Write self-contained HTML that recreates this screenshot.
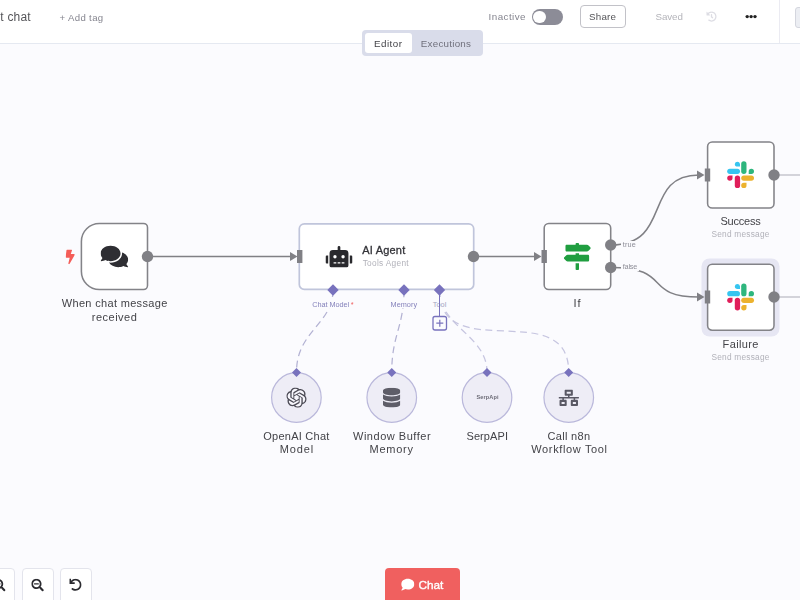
<!DOCTYPE html>
<html>
<head>
<meta charset="utf-8">
<title>n8n workflow</title>
<style>
*{box-sizing:border-box;margin:0;padding:0}
html,body{width:800px;height:600px;overflow:hidden}
body{background:#fbfbfe;font-family:"Liberation Sans",sans-serif;position:relative;color:#555}
.abs{position:absolute}
#header{position:absolute;left:0;top:0;width:800px;height:44px;background:#fff;border-bottom:1px solid #e5e9f1}
.t{position:absolute;white-space:nowrap;line-height:1;will-change:opacity;opacity:.999}
.c{transform:translateX(-50%);text-align:center}
#tabs{position:absolute;left:362px;top:30px;width:121px;height:26px;background:#d9dcea;border-radius:4px}
#tabs .ed{position:absolute;left:3px;top:3px;width:47px;height:20px;background:#fff;border-radius:3px}
.node{position:absolute;background:#fff;border:2px solid #848489}
.lbl{font-size:11.5px;color:#4a4a4a}
.sub{font-size:9.5px;color:#aeaeb6}
.circ{position:absolute;width:51px;height:51px;border-radius:50%;background:#eeedf6;border:1.15px solid #bab8db}
.btn{position:absolute;top:568px;width:32px;height:40px;background:#fff;border:1px solid #e3e4ec;border-radius:4px}
</style>
</head>
<body>
<!-- HEADER -->
<div id="header">
  <div class="abs" style="left:531.5px;top:9px;width:31px;height:15.5px;border-radius:8px;background:#8c8c97"></div>
  <div class="abs" style="left:533px;top:10.5px;width:12.5px;height:12.5px;border-radius:50%;background:#fff"></div>
  <div class="abs" style="left:579.5px;top:5px;width:46px;height:23px;border:1px solid #c2c2c8;border-radius:4px;background:#fff"></div>
  <div class="abs" style="left:778.6px;top:0;width:1.5px;height:43px;background:#ebebf2"></div>
  <div class="abs" style="left:795.3px;top:6.5px;width:10px;height:21.5px;border:1px solid #d4d6de;border-radius:3px;background:#eceef3"></div>
</div>
<div id="tabs"><div class="ed"></div>
</div>

<!-- SVG LAYER: connections -->
<svg class="abs" style="left:0;top:0" width="800" height="600" viewBox="0 0 800 600" fill="none">
  <!-- selection halo -->
  <rect x="701.5" y="258.5" width="78" height="78" rx="8" fill="#e6e6f3"/>
  <!-- main connections -->
  <g stroke="#808085" stroke-width="1.5">
    <path d="M148 256.5H292"/>
    <path d="M474 256.5H536"/>
    <path d="M611 245C673 245 642 175 699 175"/>
    <path d="M611 267.5C673 267.5 642 297 699 297"/>
  </g>
  <g stroke="#c6c6ce" stroke-width="1.5">
    <path d="M774 175H800"/>
    <path d="M774 297H800"/>
  </g>
  <!-- arrows -->
  <g fill="#808085">
    <path d="M290 252l7.5 4.5l-7.5 4.5z"/>
    <path d="M534 252l7.5 4.5l-7.5 4.5z"/>
    <path d="M697 170.5l7.5 4.5l-7.5 4.5z"/>
    <path d="M697 292.5l7.5 4.5l-7.5 4.5z"/>
  </g>
  <!-- dashed AI connections -->
  <g stroke="#b3b2d3" stroke-width="1.25" stroke-dasharray="7 4.5">
    <path d="M333 290C333 324 296.5 331 296.5 372"/>
    <path d="M404 290C404 327 391.75 335 391.75 372"/>
  </g>
  <g stroke="#c6c5e0" stroke-width="1.25" stroke-dasharray="7 4.5">
    <path d="M439.5 290C439.5 327 487 335 487 372"/>
    <path d="M439.5 290C439.5 367 568.7 295 568.7 372"/>
  </g>
  <!-- node shapes -->
  <g fill="#fff" stroke="#838388" stroke-width="1.55">
    <path d="M99.4 223.5H143.5a4 4 0 0 1 4 4V285.5a4 4 0 0 1-4 4H99.4a18 18 0 0 1-18-18V241.5a18 18 0 0 1 18-18z"/>
    <rect x="544.2" y="223.5" width="66.5" height="66" rx="4.6"/>
    <rect x="707.6" y="142" width="66.4" height="66" rx="4.6"/>
    <rect x="707.6" y="264.2" width="66.4" height="66" rx="4.6"/>
  </g>
  <rect x="299.3" y="223.8" width="174.4" height="65.6" rx="5" fill="#fff" stroke="#c0c5db" stroke-width="1.7"/>
  <g fill="#eeedf6" stroke="#bab8db" stroke-width="1.2">
    <circle cx="296.4" cy="397.5" r="24.8"/>
    <circle cx="391.75" cy="397.5" r="24.8"/>
    <circle cx="487" cy="397.5" r="24.8"/>
    <circle cx="568.75" cy="397.5" r="24.8"/>
  </g>
</svg>

<!-- NODES -->

<!-- SVG LAYER: endpoints + icons -->
<svg class="abs" style="left:0;top:0" width="800" height="600" viewBox="0 0 800 600" fill="none">
  <g fill="#808085">
    <circle cx="147.5" cy="256.5" r="5.7"/>
    <circle cx="473.5" cy="256.5" r="5.7"/>
    <circle cx="610.7" cy="245" r="5.7"/>
    <circle cx="610.7" cy="267.5" r="5.7"/>
    <circle cx="774" cy="175" r="5.7"/>
    <circle cx="774" cy="297" r="5.7"/>
    <rect x="297" y="250" width="5.4" height="13"/>
    <rect x="541.5" y="250" width="5.4" height="13"/>
    <rect x="704.8" y="168.5" width="5.4" height="13"/>
    <rect x="704.8" y="290.5" width="5.4" height="13"/>
  </g>
  <!-- diamonds -->
  <g fill="#7872bd">
    <path d="M333 284.3l5.7 5.7l-5.7 5.7l-5.7-5.7z"/>
    <path d="M404 284.3l5.7 5.7l-5.7 5.7l-5.7-5.7z"/>
    <path d="M439.5 284.3l5.7 5.7l-5.7 5.7l-5.7-5.7z"/>
    <path d="M296.5 368l4.5 4.5l-4.5 4.5l-4.5-4.5z"/>
    <path d="M391.75 368l4.5 4.5l-4.5 4.5l-4.5-4.5z"/>
    <path d="M487 368l4.5 4.5l-4.5 4.5l-4.5-4.5z"/>
    <path d="M568.7 368l4.5 4.5l-4.5 4.5l-4.5-4.5z"/>
  </g>
  <!-- plus box -->
  <rect x="433" y="316.5" width="13.5" height="13.5" rx="2" fill="#fbfbfe" stroke="#7872bd" stroke-width="1.3"/>
  <path d="M436.3 323.2h7M439.8 319.7v7" stroke="#7872bd" stroke-width="1.2"/>
</svg>

<!-- BOTTOM -->
<div class="btn" style="left:-17px"></div>
<div class="btn" style="left:21.5px"></div>
<div class="btn" style="left:59.7px"></div>
<div class="abs" style="left:385px;top:568.3px;width:75.3px;height:40px;background:#f0605f;border-radius:4px"></div>
<svg class="abs" style="left:0;top:0" width="800" height="600" viewBox="0 0 800 600" fill="none">
  <!-- ICONS -->
  <!-- bolt -->
  <svg x="65.6" y="249.4" width="9.2" height="14.8" viewBox="0 0 320 512"><path fill="#f45d58" d="M296 160H180.600l42.600-129.800C227.200 15 215.700 0 200 0H56C44 0 33.800 8.900 32.200 20.800l-32 240C-1.700 275.200 9.500 288 24 288h118.700L96.600 482.500c-3.600 15.200 8 29.500 23.300 29.500 8.400 0 16.400-4.400 20.800-12l176-304c9.300-15.900-2.200-36-20.700-36z"/></svg>
  <!-- comments -->
  <svg x="100.6" y="244.3" width="27.6" height="24.5" viewBox="0 0 576 512"><path fill="#2e2e33" d="M416 192c0-88.400-93.100-160-208-160S0 103.600 0 192c0 34.300 14.100 65.900 38 92-13.400 30.200-35.500 54.200-35.800 54.500-2.200 2.300-2.800 5.700-1.500 8.700S4.800 352 8 352c36.600 0 66.900-12.300 88.700-25 32.200 15.700 70.300 25 111.300 25 114.900 0 208-71.600 208-160zm122 220c23.900-26 38-57.700 38-92 0-66.900-53.500-124.200-129.300-148.100.9 6.600 1.300 13.300 1.300 20.100 0 105.900-107.700 192-240 192-10.800 0-21.300-.8-31.700-1.900C207.800 439.600 281.800 480 368 480c41 0 79.100-9.200 111.300-25 21.800 12.700 52.100 25 88.700 25 3.200 0 6.100-1.900 7.300-4.800 1.300-2.900.7-6.300-1.500-8.700-.3-.3-22.400-24.200-35.800-54.500z"/></svg>
  <!-- robot -->
  <svg x="325.5" y="246" width="27" height="21.6" viewBox="0 0 640 512"><path fill="#29292d" d="M32,224H64V416H32A31.962,31.962,0,0,1,0,384V256A31.962,31.962,0,0,1,32,224Zm512-48V448a64.063,64.063,0,0,1-64,64H160a64.063,64.063,0,0,1-64-64V176a79.974,79.974,0,0,1,80-80H288V32a32,32,0,0,1,64,0V96H464A79.974,79.974,0,0,1,544,176ZM264,256a40,40,0,1,0-40,40A39.997,39.997,0,0,0,264,256Zm-8,128H192v32h64Zm96,0H288v32h64ZM456,256a40,40,0,1,0-40,40A39.997,39.997,0,0,0,456,256Zm-8,128H384v32h64ZM640,256V384a31.962,31.962,0,0,1-32,32H576V224h32A31.962,31.962,0,0,1,640,256Z"/></svg>
  <!-- map signs -->
  <svg x="563.8" y="243" width="27" height="27" viewBox="0 0 512 512"><path fill="#209e40" d="M507.310 84.690L464 41.370c-6-6-14.140-9.370-22.630-9.370H288V16c0-8.840-7.160-16-16-16h-32c-8.840 0-16 7.160-16 16v16H56c-13.250 0-24 10.750-24 24v80c0 13.250 10.750 24 24 24h385.370c8.490 0 16.620-3.370 22.630-9.370l43.310-43.310c6.250-6.260 6.250-16.380 0-22.630zM224 496c0 8.840 7.160 16 16 16h32c8.840 0 16-7.160 16-16V384h-64v112zm232-272H288v-32h-64v32H70.630c-8.490 0-16.620 3.370-22.630 9.370L4.690 276.690c-6.250 6.250-6.250 16.380 0 22.630L48 342.630c6 6 14.140 9.370 22.630 9.370H456c13.250 0 24-10.750 24-24v-80c0-13.250-10.750-24-24-24z"/></svg>
  <!-- slack x2 -->
  <g transform="translate(727.2 161.3)">
    <rect x="0" y="7.4" width="12.8" height="5.3" rx="2.65" fill="#36c5f0"/>
    <path d="M7.6 2.65a2.65 2.65 0 0 1 5.2 0v2.65h-2.55a2.65 2.65 0 0 1-2.65-2.65z" fill="#36c5f0"/>
    <rect x="14" y="0" width="5.3" height="12.7" rx="2.65" fill="#2eb67d"/>
    <path d="M24.15 12.7h-2.65v-2.65a2.65 2.65 0 1 1 2.65 2.65z" fill="#2eb67d"/>
    <rect x="14" y="14.1" width="12.8" height="5.3" rx="2.65" fill="#ecb22e"/>
    <path d="M19.3 24.15a2.65 2.65 0 1 1-2.65-2.65h2.65z" fill="#ecb22e"/>
    <rect x="7.6" y="14.1" width="5.3" height="12.7" rx="2.65" fill="#e01e5a"/>
    <path d="M2.65 14.1h2.65v2.65a2.65 2.65 0 1 1-2.65-2.65z" fill="#e01e5a"/>
  </g>
  <g transform="translate(727.2 283.6)">
    <rect x="0" y="7.4" width="12.8" height="5.3" rx="2.65" fill="#36c5f0"/>
    <path d="M7.6 2.65a2.65 2.65 0 0 1 5.2 0v2.65h-2.55a2.65 2.65 0 0 1-2.65-2.65z" fill="#36c5f0"/>
    <rect x="14" y="0" width="5.3" height="12.7" rx="2.65" fill="#2eb67d"/>
    <path d="M24.15 12.7h-2.65v-2.65a2.65 2.65 0 1 1 2.65 2.65z" fill="#2eb67d"/>
    <rect x="14" y="14.1" width="12.8" height="5.3" rx="2.65" fill="#ecb22e"/>
    <path d="M19.3 24.15a2.65 2.65 0 1 1-2.65-2.65h2.65z" fill="#ecb22e"/>
    <rect x="7.6" y="14.1" width="5.3" height="12.7" rx="2.65" fill="#e01e5a"/>
    <path d="M2.65 14.1h2.65v2.65a2.65 2.65 0 1 1-2.65-2.65z" fill="#e01e5a"/>
  </g>

  <!-- openai -->
  <svg x="286.3" y="387.4" width="20.4" height="20.4" viewBox="0 0 24 24"><circle cx="12" cy="12" r="10.5" fill="#f7f6fc"/><path fill="#4c4b55" d="M22.2819 9.8211a5.9847 5.9847 0 0 0-.5157-4.9108 6.0462 6.0462 0 0 0-6.5098-2.9A6.0651 6.0651 0 0 0 4.9807 4.1818a5.9847 5.9847 0 0 0-3.9977 2.9 6.0462 6.0462 0 0 0 .7427 7.0966 5.98 5.98 0 0 0 .511 4.9107 6.051 6.051 0 0 0 6.5146 2.9001A5.9847 5.9847 0 0 0 13.2599 24a6.0557 6.0557 0 0 0 5.7718-4.2058 5.9894 5.9894 0 0 0 3.9977-2.9001 6.0557 6.0557 0 0 0-.7475-7.0729zm-9.022 12.6081a4.4755 4.4755 0 0 1-2.8764-1.0408l.1419-.0804 4.7783-2.7582a.7948.7948 0 0 0 .3927-.6813v-6.7369l2.02 1.1686a.071.071 0 0 1 .038.052v5.5826a4.504 4.504 0 0 1-4.4945 4.4944zm-9.6607-4.1254a4.4708 4.4708 0 0 1-.5346-3.0137l.142.0852 4.783 2.7582a.7712.7712 0 0 0 .7806 0l5.8428-3.3685v2.3324a.0804.0804 0 0 1-.0332.0615L9.74 19.9502a4.4992 4.4992 0 0 1-6.1408-1.6464zM2.3408 7.8956a4.485 4.485 0 0 1 2.3655-1.9728V11.6a.7664.7664 0 0 0 .3879.6765l5.8144 3.3543-2.0201 1.1685a.0757.0757 0 0 1-.071 0l-4.8303-2.7865A4.504 4.504 0 0 1 2.3408 7.872zm16.5963 3.8558L13.1038 8.364 15.1192 7.2a.0757.0757 0 0 1 .071 0l4.8303 2.7913a4.4944 4.4944 0 0 1-.6765 8.1042v-5.6772a.79.79 0 0 0-.407-.667zm2.0107-3.0231l-.142-.0852-4.7735-2.7818a.7759.7759 0 0 0-.7854 0L9.409 9.2297V6.8974a.0662.0662 0 0 1 .0284-.0615l4.8303-2.7866a4.4992 4.4992 0 0 1 6.6802 4.66zM8.3065 12.863l-2.02-1.1638a.0804.0804 0 0 1-.038-.0567V6.0742a4.4992 4.4992 0 0 1 7.3757-3.4537l-.142.0805L8.704 5.459a.7948.7948 0 0 0-.3927.6813zm1.0976-2.3654l2.602-1.4998 2.6069 1.4998v2.9994l-2.5974 1.4997-2.6067-1.4997Z"/></svg>
  <!-- database -->
  <svg x="383" y="387.8" width="17.3" height="19.8" viewBox="0 0 448 512"><path fill="#5e5d68" d="M448 73.143v45.714C448 159.143 347.667 192 224 192S0 159.143 0 118.857V73.143C0 32.857 100.333 0 224 0s224 32.857 224 73.143zM448 176v102.857C448 319.143 347.667 352 224 352S0 319.143 0 278.857V176c48.125 33.143 136.208 48.572 224 48.572S399.874 209.143 448 176zm0 160v102.857C448 479.143 347.667 512 224 512S0 479.143 0 438.857V336c48.125 33.143 136.208 48.572 224 48.572S399.874 369.143 448 336z"/></svg>
  <!-- network wired -->
  <svg x="558.5" y="389.6" width="20.5" height="16.4" viewBox="0 0 640 512"><path fill="#5a5965" d="M640 264v-16c0-8.840-7.160-16-16-16H344v-40h72c17.670 0 32-14.330 32-32V32c0-17.670-14.330-32-32-32H224c-17.670 0-32 14.330-32 32v128c0 17.670 14.330 32 32 32h72v40H16c-8.840 0-16 7.160-16 16v16c0 8.840 7.160 16 16 16h104v40H64c-17.670 0-32 14.330-32 32v128c0 17.670 14.330 32 32 32h160c17.670 0 32-14.330 32-32V352c0-17.670-14.330-32-32-32h-56v-40h304v40h-56c-17.670 0-32 14.330-32 32v128c0 17.670 14.330 32 32 32h160c17.670 0 32-14.330 32-32V352c0-17.670-14.330-32-32-32h-56v-40h104c8.840 0 16-7.160 16-16zM256 128V64h128v64H256zm-64 320H96v-64h96v64zm352 0h-96v-64h96v64z"/></svg>
  <!-- search minus -->
  <svg x="31.3" y="578.8" width="12.6" height="12.6" viewBox="0 0 512 512"><path fill="#2b2b30" d="M304 192v32c0 6.600-5.400 12-12 12H124c-6.600 0-12-5.400-12-12v-32c0-6.600 5.400-12 12-12h168c6.600 0 12 5.400 12 12zm201 284.700L476.700 505c-9.400 9.400-24.600 9.400-33.900 0L343 405.300c-4.500-4.500-7-10.600-7-17V372c-35.300 27.600-79.700 44-128 44C93.100 416 0 322.900 0 208S93.100 0 208 0s208 93.100 208 208c0 48.300-16.400 92.700-44 128h16.300c6.400 0 12.500 2.500 17 7l99.700 99.700c9.300 9.400 9.300 24.600 0 34zM344 208c0-75.200-60.800-136-136-136S72 132.800 72 208s60.800 136 136 136 136-60.800 136-136z"/></svg>
  <!-- search plus (cut off) -->
  <svg x="-7" y="578.8" width="12.6" height="12.6" viewBox="0 0 512 512"><path fill="#2b2b30" d="M304 192v32c0 6.600-5.400 12-12 12h-56v56c0 6.600-5.400 12-12 12h-32c-6.600 0-12-5.400-12-12v-56h-56c-6.600 0-12-5.400-12-12v-32c0-6.600 5.400-12 12-12h56v-56c0-6.600 5.400-12 12-12h32c6.600 0 12 5.400 12 12v56h56c6.600 0 12 5.400 12 12zm201 284.700L476.700 505c-9.400 9.400-24.600 9.400-33.900 0L343 405.300c-4.500-4.500-7-10.600-7-17V372c-35.300 27.600-79.700 44-128 44C93.100 416 0 322.900 0 208S93.100 0 208 0s208 93.100 208 208c0 48.300-16.400 92.700-44 128h16.300c6.400 0 12.500 2.500 17 7l99.700 99.700c9.300 9.400 9.300 24.600 0 34zM344 208c0-75.200-60.800-136-136-136S72 132.800 72 208s60.800 136 136 136 136-60.800 136-136z"/></svg>
  <!-- undo -->
  <svg x="69.3" y="578.6" width="12.4" height="12.4" viewBox="0 0 512 512"><path fill="#2b2b30" d="M212.333 224.333H12c-6.627 0-12-5.373-12-12V12C0 5.373 5.373 0 12 0h48c6.627 0 12 5.373 12 12v78.112C117.773 39.279 184.260 7.470 258.175 8.007c136.906.994 246.448 111.623 246.157 248.532C504.041 393.258 393.120 504 256.333 504c-64.089 0-122.496-24.313-166.510-64.215-5.099-4.622-5.334-12.554-.467-17.420l33.967-33.967c4.474-4.474 11.662-4.717 16.401-.525C170.760 415.336 211.580 432 256.333 432c97.268 0 176-78.716 176-176 0-97.267-78.716-176-176-176-58.496 0-110.280 28.476-142.274 72.333h98.274c6.627 0 12 5.373 12 12v48c0 6.627-5.373 12-12 12z"/></svg>
  <!-- history -->
  <svg x="706.2" y="11.3" width="10.6" height="10.6" viewBox="0 0 512 512"><path fill="#dddde4" d="M504 255.531c.253 136.640-111.180 248.372-247.820 248.468-59.015.042-113.223-20.530-155.822-54.911-11.077-8.940-11.905-25.541-1.839-35.607l11.267-11.267c8.609-8.609 22.353-9.551 31.891-1.984C173.062 425.135 212.781 440 256 440c101.705 0 184-82.311 184-184 0-101.705-82.311-184-184-184-48.814 0-93.149 18.969-126.068 49.932l50.754 50.754c10.080 10.080 2.941 27.314-11.313 27.314H24c-8.837 0-16-7.163-16-16V38.627c0-14.254 17.234-21.393 27.314-11.314l49.372 49.372C129.209 34.136 189.552 8 256 8c136.810 0 247.747 110.780 248 247.531zm-180.912 78.784l9.823-12.630c8.138-10.463 6.253-25.542-4.210-33.679L288 256.349V152c0-13.255-10.745-24-24-24h-16c-13.255 0-24 10.745-24 24v135.651l65.409 50.874c10.463 8.137 25.541 6.253 33.679-4.210z"/></svg>
  <!-- dots -->
  <g fill="#222"><circle cx="747.2" cy="16.6" r="1.7"/><circle cx="751.1" cy="16.6" r="1.7"/><circle cx="755" cy="16.6" r="1.7"/></g>
  <!-- chat comment -->
  <svg x="401.2" y="578" width="13.2" height="13.2" viewBox="0 0 512 512"><path fill="#fff" d="M256 32C114.600 32 0 125.100 0 240c0 49.600 21.400 95 57 130.700C44.500 421.100 2.700 466 2.200 466.500c-2.200 2.300-2.800 5.700-1.500 8.700S4.800 480 8 480c66.300 0 116-31.800 140.600-51.400 32.700 12.300 69 19.400 107.400 19.400 141.400 0 256-93.100 256-208S397.400 32 256 32z"/></svg>
</svg>
<!-- LABELS -->
<div class="t" style="left:61.75px;top:298.09px;font-size:11px;letter-spacing:0.328px;color:#434348;">When chat message</div>
<div class="t" style="left:91.75px;top:311.59px;font-size:11px;letter-spacing:0.500px;color:#434348;">received</div>
<div class="t" style="left:362.25px;top:245.09px;font-size:11px;letter-spacing:0.200px;color:#333338;-webkit-text-stroke:0.3px #333338">AI Agent</div>
<div class="t" style="left:362.65px;top:259.27px;font-size:8.3px;letter-spacing:0.310px;color:#b2b2ba;">Tools Agent</div>
<div class="t" style="left:573.40px;top:298.09px;font-size:11px;letter-spacing:0.950px;color:#434348;">If</div>
<div class="t" style="left:720.50px;top:216.09px;font-size:11px;letter-spacing:-0.225px;color:#434348;">Success</div>
<div class="t" style="left:711.50px;top:230.37px;font-size:8.3px;letter-spacing:0.227px;color:#b2b2ba;">Send message</div>
<div class="t" style="left:722.60px;top:338.69px;font-size:11px;letter-spacing:0.358px;color:#434348;">Failure</div>
<div class="t" style="left:711.50px;top:353.07px;font-size:8.3px;letter-spacing:0.227px;color:#b2b2ba;">Send message</div>
<div class="t" style="left:263.30px;top:430.59px;font-size:11px;letter-spacing:0.245px;color:#434348;">OpenAI Chat</div>
<div class="t" style="left:279.65px;top:444.29px;font-size:11px;letter-spacing:0.875px;color:#434348;">Model</div>
<div class="t" style="left:353.00px;top:430.59px;font-size:11px;letter-spacing:0.521px;color:#434348;">Window Buffer</div>
<div class="t" style="left:369.50px;top:444.29px;font-size:11px;letter-spacing:0.750px;color:#434348;">Memory</div>
<div class="t" style="left:466.50px;top:430.59px;font-size:11px;letter-spacing:0.083px;color:#434348;">SerpAPI</div>
<div class="t" style="left:547.50px;top:430.59px;font-size:11px;letter-spacing:0.321px;color:#434348;">Call n8n</div>
<div class="t" style="left:531.25px;top:444.29px;font-size:11px;letter-spacing:0.646px;color:#434348;">Workflow Tool</div>
<div class="t" style="left:312.15px;top:301.02px;font-size:7.3px;letter-spacing:-0.033px;color:#8582bb;;background:#fbfbfe">Chat Model</div>
<div class="t" style="left:350.75px;top:301.02px;font-size:7.3px;letter-spacing:0.000px;color:#f0605f;">*</div>
<div class="t" style="left:390.50px;top:301.02px;font-size:7.3px;letter-spacing:0.050px;color:#8582bb;;background:#fbfbfe">Memory</div>
<div class="t" style="left:432.75px;top:301.02px;font-size:7.3px;letter-spacing:0.083px;color:#a4a3c0;padding:1px 1.5px;margin:-1px 0 0 -1.5px;background:#fbfbfe">Tool</div>
<div class="t" style="left:622.80px;top:241.12px;font-size:7.3px;letter-spacing:0.117px;color:#8e8e98;padding:0 2px;margin-left:-2px;background:#fbfbfe">true</div>
<div class="t" style="left:622.80px;top:263.42px;font-size:7.3px;letter-spacing:-0.237px;color:#8e8e98;padding:0 2px;margin-left:-2px;background:#fbfbfe">false</div>
<div class="t" style="left:0.15px;top:11.19px;font-size:12px;letter-spacing:0.000px;color:#555559;">t</div>
<div class="t" style="left:7.40px;top:11.19px;font-size:12px;letter-spacing:0.200px;color:#555559;">chat</div>
<div class="t" style="left:59.50px;top:12.87px;font-size:9.6px;letter-spacing:0.356px;color:#85858f;">+ Add tag</div>
<div class="t" style="left:488.60px;top:12.30px;font-size:9.8px;letter-spacing:0.450px;color:#85858f;">Inactive</div>
<div class="t" style="left:589.10px;top:12.10px;font-size:9.8px;letter-spacing:0.188px;color:#555559;">Share</div>
<div class="t" style="left:655.50px;top:12.10px;font-size:9.8px;letter-spacing:-0.088px;color:#b4b4ba;">Saved</div>
<div class="t" style="left:374.05px;top:38.60px;font-size:9.8px;letter-spacing:0.470px;color:#444449;">Editor</div>
<div class="t" style="left:420.75px;top:38.60px;font-size:9.8px;letter-spacing:0.250px;color:#70707c;">Executions</div>
<div class="t" style="left:418.45px;top:579.91px;font-size:11.8px;letter-spacing:0.000px;color:#ffffff;-webkit-text-stroke:0.35px #fff;background:#f0605f">Chat</div>
<div class="t" style="left:476.55px;top:394.56px;font-size:5.6px;letter-spacing:0.075px;color:#6c6b76;font-weight:bold">SerpApi</div>
<!-- /LABELS -->
<div class="abs" style="left:438.8px;top:294px;width:1.4px;height:23px;background:#7872bd"></div>
</body>
</html>
